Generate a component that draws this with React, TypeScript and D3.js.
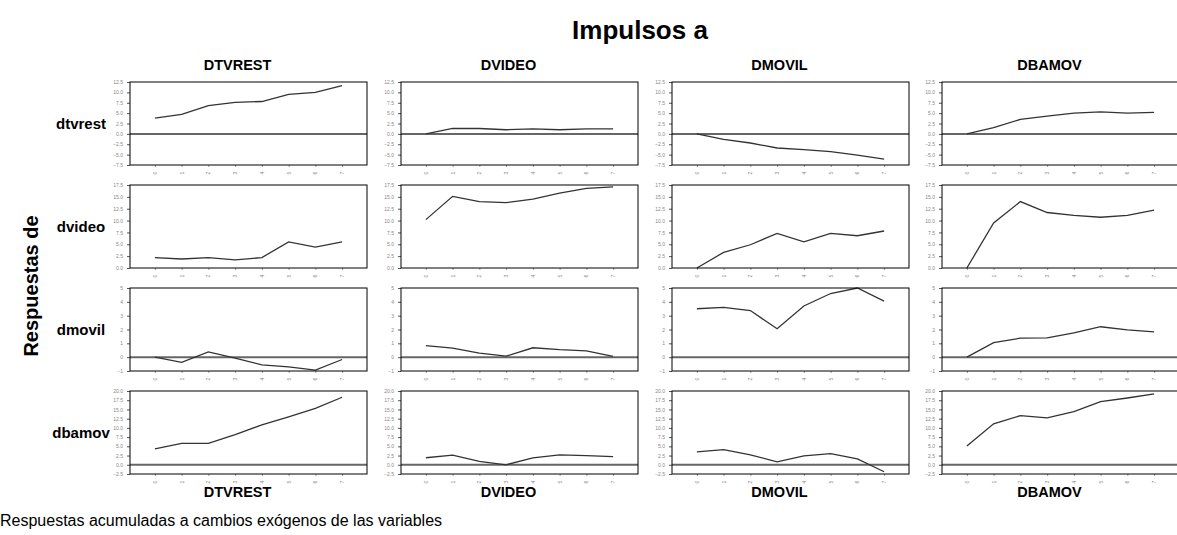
import { useRef, useEffect } from "react";
import * as d3 from "d3";

const shocks = ["DTVREST", "DVIDEO", "DMOVIL", "DBAMOV"];
const responses = ["dtvrest", "dvideo", "dmovil", "dbamov"];
const periods = [0, 1, 2, 3, 4, 5, 6, 7];

// y tick ranges per response row
const rowTicks = [
  [-7.5, -5, -2.5, 0, 2.5, 5, 7.5, 10, 12.5],
  [0, 2.5, 5, 7.5, 10, 12.5, 15, 17.5],
  [-1, 0, 1, 2, 3, 4, 5],
  [-2.5, 0, 2.5, 5, 7.5, 10, 12.5, 15, 17.5, 20],
];
const rowDecimals = [1, 1, 0, 1];

// accumulated responses: [row][col][period]
const dtvrestResp = [
  [3.8, 4.7, 6.8, 7.6, 7.8, 9.5, 10.0, 11.6],
  [0, 1.3, 1.3, 1.0, 1.2, 1.0, 1.2, 1.2],
  [0, -1.3, -2.2, -3.4, -3.8, -4.3, -5.1, -6.1],
  [0, 1.5, 3.5, 4.3, 5.0, 5.3, 5.0, 5.2],
];
const dvideoResp = [
  [2.2, 1.9, 2.2, 1.7, 2.2, 5.5, 4.4, 5.5],
  [10.2, 15.1, 14.0, 13.8, 14.5, 15.8, 16.8, 17.1],
  [0, 3.3, 4.9, 7.3, 5.5, 7.3, 6.8, 7.8],
  [0, 9.5, 14.0, 11.7, 11.1, 10.7, 11.1, 12.2],
];
const dmovilResp = [
  [0, -0.38, 0.38, -0.07, -0.56, -0.7, -0.93, -0.17],
  [0.83, 0.66, 0.29, 0.07, 0.68, 0.54, 0.46, 0.05],
  [3.5, 3.6, 3.37, 2.05, 3.7, 4.6, 5.0, 4.05],
  [0, 1.05, 1.37, 1.39, 1.76, 2.2, 1.98, 1.83],
];
const dbamovResp = [
  [4.3, 5.8, 5.8, 8.2, 10.8, 13.0, 15.3, 18.3],
  [1.9, 2.6, 0.9, 0.0, 1.9, 2.7, 2.5, 2.2],
  [3.5, 4.1, 2.7, 0.8, 2.4, 3.0, 1.6, -1.9],
  [5.1, 11.1, 13.3, 12.7, 14.4, 17.1, 18.1, 19.2],
];
const allResp = [dtvrestResp, dvideoResp, dmovilResp, dbamovResp];

const width = 1177;
const height = 535;
const colLeft = [130, 401, 672, 942];
const rowTop = [82, 185, 288, 391];
const panelW = 237;
const panelH = 83;
const font = "'Liberation Sans', Arial, sans-serif";

function App() {
  const svgRef = useRef<SVGSVGElement>(null);

  useEffect(() => {
    const svg = d3.select(svgRef.current);
    svg.selectAll("*").remove();
    svg.style("font-family", font);

    svg
      .append("text")
      .attr("x", 640)
      .attr("y", 39)
      .attr("text-anchor", "middle")
      .attr("font-size", 26)
      .attr("font-weight", "bold")
      .text("Impulsos a");

    svg
      .append("text")
      .attr("transform", "translate(38,286) rotate(-90)")
      .attr("text-anchor", "middle")
      .attr("font-size", 20)
      .attr("font-weight", "bold")
      .text("Respuestas de");

    shocks.forEach((s, c) => {
      const cx = colLeft[c] + panelW / 2 - 11;
      svg
        .append("text")
        .attr("x", cx)
        .attr("y", 70)
        .attr("text-anchor", "middle")
        .attr("font-size", 14.5)
        .attr("font-weight", "bold")
        .text(s);
      svg
        .append("text")
        .attr("x", cx)
        .attr("y", 497)
        .attr("text-anchor", "middle")
        .attr("font-size", 14.5)
        .attr("font-weight", "bold")
        .text(s);
    });

    svg
      .append("text")
      .attr("x", 0)
      .attr("y", 526)
      .attr("font-size", 16)
      .text("Respuestas acumuladas a cambios exógenos de las variables");

    responses.forEach((r, ri) => {
      svg
        .append("text")
        .attr("x", 81)
        .attr("y", rowTop[ri] + panelH / 2 + 5)
        .attr("text-anchor", "middle")
        .attr("font-size", 15)
        .attr("font-weight", "bold")
        .text(r);

      const ticks = rowTicks[ri];
      const y = d3
        .scaleLinear()
        .domain([ticks[0], ticks[ticks.length - 1]])
        .range([panelH, 0]);
      const x = d3.scaleLinear().domain([-0.93, 7.93]).range([0, panelW]);

      shocks.forEach((s, c) => {
        const g = svg
          .append("g")
          .attr("transform", `translate(${colLeft[c]},${rowTop[ri]})`);

        // y axis
        const ya = g
          .append("g")
          .call(
            d3
              .axisLeft(y)
              .tickValues(ticks)
              .tickSize(3)
              .tickPadding(4)
              .tickFormat((d) => d3.format(`.${rowDecimals[ri]}f`)(d as number))
          );
        ya.select(".domain").remove();
        ya.selectAll("line").attr("stroke", "#555");
        ya.selectAll("text")
          .attr("font-size", 5)
          .attr("fill", "#888")
          .attr("font-family", font);

        // x axis
        const xa = g
          .append("g")
          .attr("transform", `translate(0,${panelH})`)
          .call(d3.axisBottom(x).tickValues(periods).tickSize(2).tickFormat(d3.format("d")));
        xa.select(".domain").remove();
        xa.selectAll("line").attr("stroke", "#999");
        xa.selectAll("text")
          .attr("font-size", 5)
          .attr("fill", "#888")
          .attr("font-family", font)
          .attr("transform", "translate(0,4) rotate(-90)")
          .attr("text-anchor", "middle")
          .attr("dy", "0.3em")
          .attr("y", 0)
          .attr("x", -4);

        // zero line
        if (y.domain()[0] < 0) {
          g.append("line")
            .attr("x1", 0)
            .attr("x2", panelW)
            .attr("y1", y(0))
            .attr("y2", y(0))
            .attr("stroke", "#666")
            .attr("stroke-width", 2);
        }

        const line = d3
          .line<number>()
          .x((_, i) => x(periods[i]))
          .y((d) => y(d));
        g.append("path")
          .datum(allResp[ri][c])
          .attr("d", line)
          .attr("fill", "none")
          .attr("stroke", "#333")
          .attr("stroke-width", 1.3);

        g.append("rect")
          .attr("x", 0)
          .attr("y", 0)
          .attr("width", panelW)
          .attr("height", panelH)
          .attr("fill", "none")
          .attr("stroke", "#000")
          .attr("stroke-width", 1);
      });
    });
  }, []);

  return (
    <svg
      ref={svgRef}
      width={width}
      height={height}
      style={{ position: "absolute", left: 0, top: 0, background: "#fff" }}
    />
  );
}

export default App;
